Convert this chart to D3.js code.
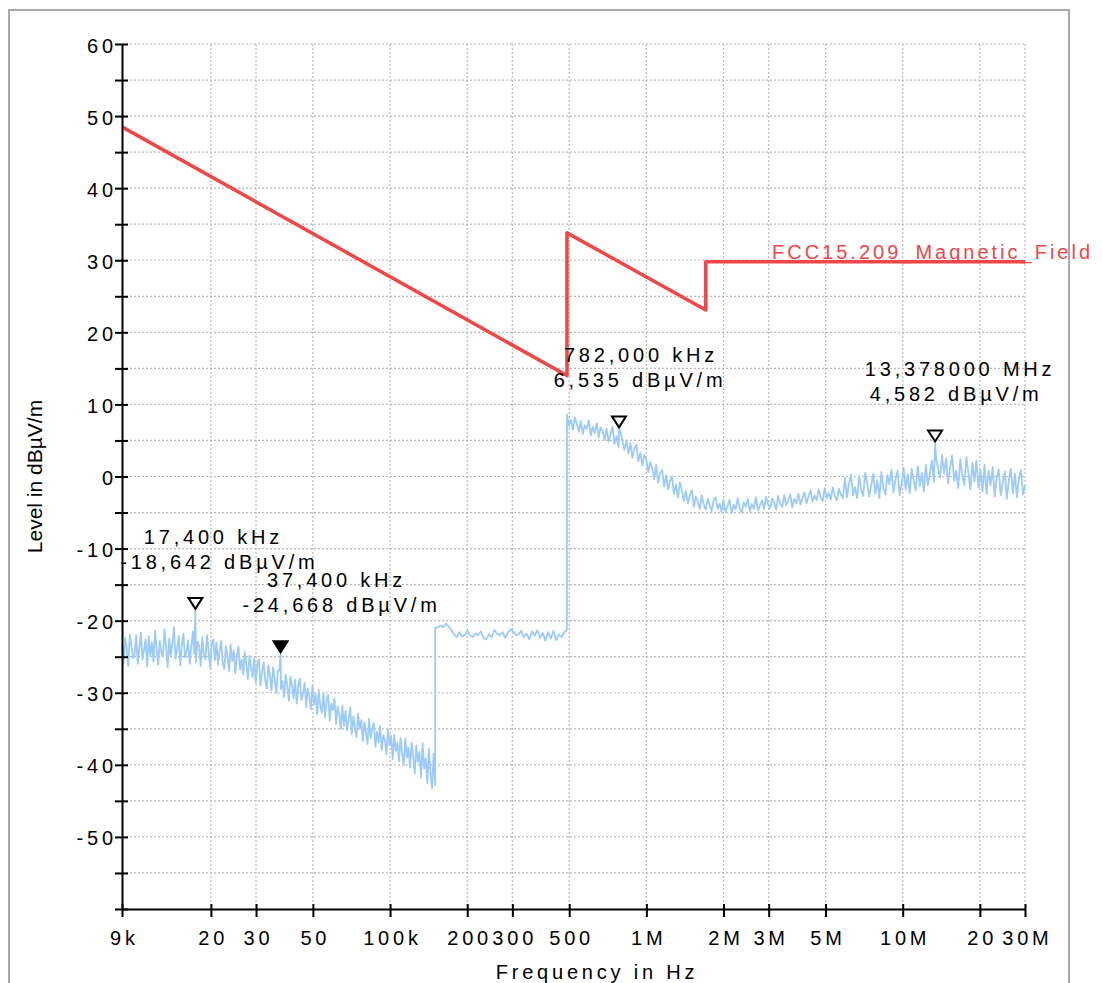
<!DOCTYPE html>
<html><head><meta charset="utf-8">
<script src="https://cdn.jsdelivr.net/npm/d3@7"></script>
<style>
html,body{margin:0;padding:0;background:#fff;}
svg{display:block;font-family:'Liberation Sans',Arial,Helvetica,sans-serif;}
</style></head><body>
<svg id="chart" width="1102" height="983"></svg>
<script>
// ---------------- DATA ----------------
// x axis ticks
const xTickValues = [9e3, 2e4, 3e4, 5e4, 1e5, 2e5, 3e5, 5e5, 1e6, 2e6, 3e6, 5e6, 1e7, 2e7, 3e7];
const xTickLabels = ["9k", "20", "30", "50", "100k", "200", "300", "500", "1M", "2M", "3M", "5M", "10M", "20", "30M"];
// y axis ticks
const yTickValues = [-60, -55, -50, -45, -40, -35, -30, -25, -20, -15, -10, -5, 0, 5, 10, 15, 20, 25, 30, 35, 40, 45, 50, 55, 60];
const yTickLabels = ["", "", "-50", "", "-40", "", "-30", "", "-20", "", "-10", "", "0", "", "10", "", "20", "", "30", "", "40", "", "50", "", "60"];

// FCC 15.209 magnetic field limit
const limitFreq = [9e3, 490e3, 490e3, 1.705e6, 1.705e6, 30e6];
const limitLevel = [48.5, 14.0, 33.8, 23.1, 29.8, 29.8];
const limitName = "FCC15.209_Magnetic_Field";

// Measured trace, sweep segments (levels in dBµV/m, evenly spaced in log frequency)
const segAFreq = [9e3, 150e3];
const segALevels = [
 -23.1,-25.9,-22.4,-24.0,-26.3,-21.9,-23.5,-25.2,-24.6,-22.0,-26.0,-23.8,-21.7,-25.4,-24.1,-22.6,-26.4,-22.2,-24.9,-23.0,
 -25.7,-21.4,-23.9,-26.1,-22.8,-24.4,-25.0,-21.2,-23.6,-26.5,-22.5,-24.8,-23.2,-20.9,-25.3,-24.0,-22.1,-26.2,-23.4,-21.8,
 -25.1,-24.3,-22.7,-26.0,-23.7,-21.5,-24.6,-25.8,-22.9,-23.5,-26.3,-22.3,-24.7,-25.4,-22.0,-24.2,-26.6,-23.1,-22.6,-25.5,
 -23.0,-26.1,-24.2,-22.8,-25.9,-26.7,-23.5,-24.9,-27.0,-23.3,-25.6,-24.1,-27.3,-25.0,-23.6,-26.8,-25.4,-27.5,-24.3,-26.0,
 -28.1,-24.9,-26.5,-27.8,-25.2,-28.6,-26.0,-25.4,-29.0,-27.1,-25.8,-28.3,-29.4,-26.2,-27.6,-29.7,-26.5,-28.0,-30.1,-27.0,
 -26.9,-29.5,-28.4,-30.6,-27.5,-29.0,-31.1,-27.8,-28.9,-30.8,-28.2,-31.5,-29.1,-28.0,-31.0,-30.2,-28.6,-32.0,-29.4,-30.5,
 -32.3,-29.0,-31.6,-30.2,-33.0,-29.6,-31.9,-32.8,-30.1,-33.4,-31.0,-30.3,-33.9,-31.5,-32.4,-30.8,-34.3,-31.9,-33.0,-35.0,
 -31.8,-34.6,-32.5,-35.2,-33.7,-32.0,-35.8,-33.3,-34.9,-36.2,-32.9,-35.0,-33.8,-36.7,-34.1,-35.5,-37.1,-33.6,-36.3,-35.0,
 -34.2,-37.5,-35.4,-36.9,-34.6,-38.0,-35.9,-36.5,-38.6,-35.1,-37.3,-36.0,-39.2,-35.8,-38.1,-36.9,-39.5,-36.3,-38.4,-40.1,
 -36.4,-39.0,-37.6,-40.4,-36.9,-38.8,-41.2,-37.3,-39.6,-38.2,-41.8,-37.0,-40.5,-39.1,-42.6,-37.8,-41.0,-43.3,-38.5,-42.8
];
const segBFreq = [150e3, 490e3];
const segBLevels = [
 -21.0,-20.9,-20.7,-20.9,-20.4,-20.8,-21.3,-21.9,-22.3,-21.6,
 -22.2,-22.0,-21.4,-22.1,-22.3,-21.8,-22.0,-21.5,-22.4,-22.6,
 -21.9,-22.3,-21.3,-21.8,-22.0,-21.6,-22.4,-21.7,-21.2,-21.5,
 -22.0,-21.9,-21.4,-22.3,-21.8,-22.6,-21.5,-22.1,-21.3,-22.4,
 -21.7,-22.8,-21.6,-22.5,-21.4,-22.7,-21.9,-22.3,-21.6,-21.2
];
const segCFreq = [490e3, 2e6];
const segCLevels = [
 8.6,7.0,7.9,6.5,8.2,7.3,6.2,7.7,5.9,7.1, 6.6,7.8,5.7,6.9,6.0,7.4,5.4,6.8,6.3,5.1,
 6.6,4.8,5.9,6.9,4.5,5.6,4.1,6.2,4.9,3.7, 5.0,3.2,4.6,2.6,3.9,4.4,2.1,3.3,1.5,3.0,
 2.4,0.6,2.0,1.2,-0.4,1.6,-0.9,0.5,0.9,-1.4, 0.2,-1.8,-0.6,0.0,-2.4,-1.1,-2.9,-0.8,-1.9,-3.4,
 -2.0,-3.7,-2.6,-1.9,-4.2,-2.8,-3.5,-4.5,-2.6,-3.9, -4.6,-3.1,-4.0,-4.8,-3.3,-2.9,-4.5,-3.8,-4.9,-3.2
];
const segDFreq = [2e6, 30e6];
const segDLevels = [
 -3.4,-4.9,-4.1,-3.2,-5.1,-3.9,-4.6,-3.0,-4.4,-5.0,-3.6,-4.2,-3.1,-4.8,-3.8,-4.5,-2.9,-4.7,-4.0,-3.3,
 -4.5,-2.8,-3.9,-4.4,-3.0,-3.6,-4.6,-2.7,-3.8,-4.2,-2.6,-4.0,-3.3,-2.5,-4.3,-3.1,-3.7,-2.4,-3.9,-3.0,
 -2.2,-3.7,-2.8,-1.9,-3.5,-2.6,-3.3,-1.8,-2.9,-3.4,-1.6,-3.0,-2.3,-3.2,-1.5,-2.7,-3.3,-1.7,-2.5,-3.0,
 -0.2,-2.9,-1.0,0.3,-2.6,-1.5,-3.0,0.1,-1.8,-2.7,0.5,-0.9,-2.8,-1.2,0.4,-2.4,-0.5,-3.0,0.6,-1.6,
 -2.5,0.2,-1.1,1.0,-2.2,-0.4,0.8,-2.6,-1.0,1.2,-1.8,0.3,-2.3,1.1,-0.6,-1.9,1.4,-1.3,0.5,-2.1,
 1.6,-1.2,0.4,2.2,-0.8,2.8,1.2,-0.2,3.0,0.4, 2.5,-1.0,1.3,2.9,-0.6,0.8,-1.6,2.4,0.1,-1.2,
 2.7,0.6,-1.8,1.9,-0.7,2.2,-1.5,0.9,-2.1,1.6, -2.4,0.8,-1.2,1.3,-2.8,-0.3,1.0,-2.6,-0.9,0.7,
 -3.1,-0.5,1.1,-2.3,0.4,-2.9,-0.2,0.9,-2.5,-1.2
];

// Markers (peaks)
const markerFreq = [17400, 37400, 782000, 13378000];
const markerLevel = [-18.642, -24.668, 6.535, 4.582];
const markerFreqText = ["17,400 kHz", "37,400 kHz", "782,000 kHz", "13,378000 MHz"];
const markerLevelText = ["-18,642 dBµV/m", "-24,668 dBµV/m", "6,535 dBµV/m", "4,582 dBµV/m"];
const markerActive = [false, true, false, false];

// ---------------- LAYOUT ----------------
const labelDx1 = [18, 56, 22, 25];
const labelDx2 = [24, 61, 21, 21];
const RED = "#f04646", BLUE = "#9ccbfb";
const FONT = 20, LS = 3.8;

const svg = d3.select("#chart");
const x = d3.scaleLog().domain([9e3, 30e6]).range([122, 1025]);
const y = d3.scaleLinear().domain([-60, 60]).range([909, 44]);

// outer frame
svg.append("rect").attr("x", 9).attr("y", 10).attr("width", 1060).attr("height", 1000)
  .attr("fill", "none").attr("stroke", "#a9a9a9").attr("stroke-width", 2);

// grid
const grid = svg.append("g").attr("stroke", "#b8b8b8").attr("stroke-width", 1.2).attr("stroke-dasharray", "2,2");
grid.selectAll("line.h").data(yTickValues.filter(v => v > -60)).join("line")
  .attr("x1", x(9e3)).attr("x2", x(30e6)).attr("y1", d => y(d)).attr("y2", d => y(d));
grid.selectAll("line.v").data(xTickValues.slice(1)).join("line")
  .attr("y1", y(60)).attr("y2", y(-60)).attr("x1", d => x(d)).attr("x2", d => x(d));

// build trace
function sweep(fr, lv) {
  const n = lv.length, r = Math.log(fr[1] / fr[0]);
  return lv.map((v, i) => [fr[0] * Math.exp(r * i / (n - 1)), v]);
}
let trace = [].concat(sweep(segAFreq, segALevels), sweep(segBFreq, segBLevels),
  sweep(segCFreq, segCLevels), sweep(segDFreq, segDLevels));
markerFreq.forEach((f, i) => trace.push([f, markerLevel[i]]));
trace.sort((a, b) => a[0] - b[0]);

const line = d3.line().x(d => x(d[0])).y(d => y(d[1]));
svg.append("path").datum(trace).attr("d", line).attr("fill", "none")
  .attr("stroke", BLUE).attr("stroke-width", 1.8).attr("stroke-linejoin", "round");

// limit line
const limitPts = limitFreq.map((f, i) => [f, limitLevel[i]]);
svg.append("path").datum(limitPts).attr("d", line).attr("fill", "none")
  .attr("stroke", RED).attr("stroke-width", 3.5).attr("stroke-linejoin", "round");
svg.append("text").attr("x", 772).attr("y", y(29.8) - 3).attr("fill", RED)
  .attr("font-size", FONT).attr("letter-spacing", 3.0).text(limitName);

// markers
const mg = svg.append("g");
markerFreq.forEach((f, i) => {
  const mx = x(f), my = y(markerLevel[i]) - 2;
  mg.append("path").attr("d", `M${mx - 7},${my - 11}L${mx + 7},${my - 11}L${mx},${my}Z`)
    .attr("fill", markerActive[i] ? "#000" : "#fff").attr("stroke", "#000").attr("stroke-width", 2)
    .attr("stroke-linejoin", "miter");
  mg.append("text").attr("x", mx + labelDx1[i]).attr("y", my - 72).attr("dy", "0.35em")
    .attr("text-anchor", "middle").attr("font-size", FONT).attr("letter-spacing", LS).text(markerFreqText[i]);
  mg.append("text").attr("x", mx + labelDx2[i]).attr("y", my - 47).attr("dy", "0.35em")
    .attr("text-anchor", "middle").attr("font-size", FONT).attr("letter-spacing", LS).text(markerLevelText[i]);
});

// axes
const xAxis = d3.axisBottom(x).tickValues(xTickValues).tickFormat((d, i) => xTickLabels[i]).tickSizeOuter(0);
const gx = svg.append("g").attr("transform", `translate(0,${y(-60)})`).call(xAxis);
gx.attr("font-family", null).attr("font-size", null);
gx.select(".domain").attr("stroke", "#000").attr("stroke-width", 2);
gx.selectAll(".tick line").attr("y1", -5).attr("y2", 8).attr("stroke", "#000").attr("stroke-width", 2);
gx.selectAll(".tick text").attr("y", 29).attr("dy", "0.35em").attr("dx", LS / 2)
  .attr("font-size", FONT).attr("letter-spacing", LS).attr("fill", "#000");

const yAxis = d3.axisLeft(y).tickValues(yTickValues).tickFormat((d, i) => yTickLabels[i]).tickSizeOuter(0);
const gy = svg.append("g").attr("transform", `translate(${x(9e3)},0)`).call(yAxis);
gy.attr("font-family", null).attr("font-size", null);
gy.select(".domain").attr("stroke", "#000").attr("stroke-width", 2);
gy.selectAll(".tick line").attr("x1", 6).attr("x2", -7).attr("stroke", "#000").attr("stroke-width", 2);
gy.selectAll(".tick text").attr("x", -9 + LS).attr("dy", "0.4em")
  .attr("font-size", FONT).attr("letter-spacing", LS).attr("fill", "#000");

// axis titles
svg.append("text").attr("x", 597).attr("y", 972).attr("dy", "0.35em").attr("text-anchor", "middle")
  .attr("font-size", FONT).attr("letter-spacing", LS).text("Frequency in Hz");
svg.append("text").attr("transform", `translate(42,${y(0)}) rotate(-90)`).attr("text-anchor", "middle")
  .attr("font-size", 21).text("Level in dBµV/m");
</script>
</body></html>
